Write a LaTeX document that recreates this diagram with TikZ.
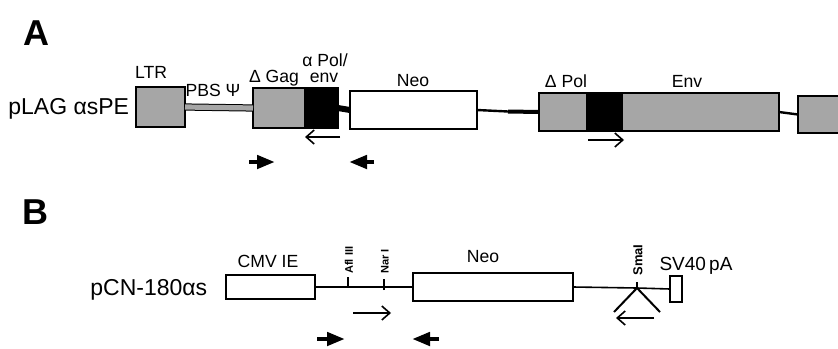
\documentclass[tikz,border=0pt]{standalone}
\usepackage{fontspec}
\setmainfont{Liberation Sans}
\usetikzlibrary{arrows.meta,fit}

\begin{document}
\begin{tikzpicture}[x=0.5pt,y=-0.5pt,
		box/.style={draw,line width=1.1pt,inner sep=0pt,outer sep=0pt},
		grey/.style={box,fill=black!35},
		blk/.style={box,fill=black},
		wbox/.style={draw,line width=0.9pt,inner sep=0pt,outer sep=0pt},
		lab/.style={font=\fontsize{8.8}{10}\selectfont,inner sep=0pt,anchor=base},
		site/.style={font=\fontsize{5.5}{6}\selectfont\bfseries,inner sep=0pt,rotate=90,anchor=west},
		prim/.style={line width=0.8pt,-{Straight Barb[length=4pt,width=7pt]}},
		probe/.style={line width=2.2pt,-{Triangle[length=9pt,width=6.5pt]}}]
	\useasboundingbox (0,0) rectangle (838,348);
	% A
	\node[font=\fontsize{18}{18}\selectfont\bfseries,inner sep=0pt,anchor=base] (ta) at (36,45) {A};
	\node[lab,font=\fontsize{11.5}{13}\selectfont,anchor=base west] (pa) at (8,114) {pLAG αsPE};
	\node[grey,fit={(136,87) (185,127)}] (ltr) {};
	\node[grey,fit={(253,88) (305,128)}] (gag) {};
	\node[blk,fit={(305,88) (338,128)}] (pe) {};
	\node[box,fit={(350,91) (477,129)}] (neo) {};
	\node[grey,fit={(539,93) (587,131)}] (dpol) {};
	\node[blk,fit={(587,93) (622,131)}] (pol) {};
	\node[grey,fit={(622,93) (779,131)}] (env) {};
	\node[grey,fit={(798,96) (850,133)}] (ltrb) {};
	\draw[line width=0.5pt,double=black!35,double distance=2.6pt] (ltr.east) -- (gag.west);
	\draw[line width=3pt] (pe.east) -- (neo.west);
	\coordinate (j) at (508,111.5);
	\draw[line width=1.2pt] (neo.east) -- (j);
	\draw[line width=2pt] (j) -- (dpol.west);
	\draw[line width=1.2pt] (env.east) -- (ltrb.west);
	\node[lab] (lltr) at (151,78) {LTR};
	\node[lab] (lpbs) at (213,96) {PBS Ψ};
	\node[lab] (lgag) at (274,82) {Δ Gag};
	\node[lab] (lpe) at (325,66) {α Pol/};
	\node[lab] (lpe2) at (324,82) {env};
	\node[lab] (lneo) at (413,86) {Neo};
	\node[lab] (ldpol) at (566,87) {Δ Pol};
	\node[lab] (lenv) at (687,87) {Env};
	\draw[prim] (340,137) -- (305,137);
	\draw[prim] (588,140) -- (624,140);
	\draw[probe] (249,162) -- (275,162);
	\draw[probe] (374,162) -- (349,162);
	% B
	\node[font=\fontsize{18}{18}\selectfont\bfseries,inner sep=0pt,anchor=base] (tb) at (35,224) {B};
	\node[lab,font=\fontsize{11.5}{13}\selectfont,anchor=base west] (pb) at (90,295) {pCN-180αs};
	\node[wbox,fit={(226,275) (315,299)}] (cmv) {};
	\node[wbox,fit={(413,273) (573,301)}] (neob) {};
	\node[wbox,fit={(670,276) (682,302)}] (sv) {};
	\coordinate (afl) at (348,287);
	\coordinate (nar) at (384,287);
	\coordinate (sma) at (637,288);
	\draw[line width=0.8pt] (cmv.east) -- (neob.west);
	\draw[line width=0.8pt] (neob.east) -- (sma) -- (sv.west);
	\draw[line width=0.8pt] (afl) -- ++(0,-10);
	\draw[line width=0.8pt] (nar) ++(0,3) -- ++(0,-11);
	\draw[line width=0.8pt] (sma) -- ++(0,-6);
	\draw[line width=1pt] (614,312) -- (sma) -- (660,312);
	\node[site] (lafl) at (349,274) {Afl III};
	\node[site] (lnar) at (385,274) {Nar I};
	\node[site,font=\fontsize{6.5}{7}\selectfont\bfseries] (lsma) at (638,276) {SmaI};
	\node[lab] (lcmv) at (268,267) {CMV IE};
	\node[lab] (lneob) at (483,262) {Neo};
	\node[lab,font=\fontsize{9.5}{11}\selectfont] (lsv) at (696,270) {SV40\,pA};
	\draw[prim] (353,313) -- (391,313);
	\draw[prim] (654,318) -- (616,318);
	\draw[probe] (317,339) -- (345,339);
	\draw[probe] (439,339) -- (412,339);
\end{tikzpicture}
\end{document}
